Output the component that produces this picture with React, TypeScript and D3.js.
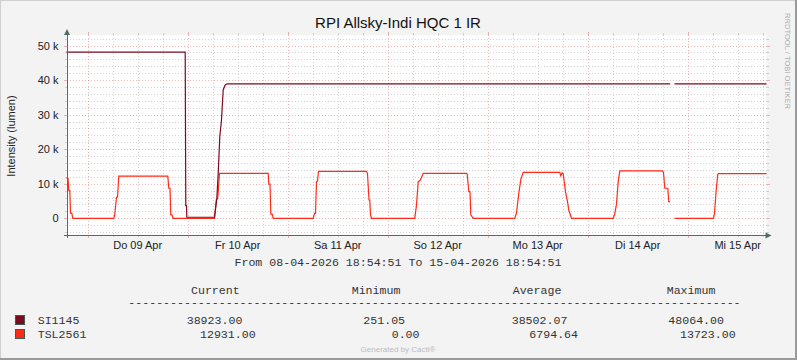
import React from "react";
import * as d3 from "d3";

const W = 797;
const H = 360;

// time range: 08-04-2026 18:54:51 .. 15-04-2026 18:54:51 (hours since start)
const startMs = Date.UTC(2026, 3, 8, 18, 54, 51);
const spanHours = 168;

const siHours = [0, 28.49, 28.63, 28.8, 28.87, 35.52, 35.69, 36.07, 36.41, 36.79, 37.2, 37.61, 38.09, 38.57, 144.89, 145.4, 145.92, 168];
const siValues = [48064, 48064, 3650, 3650, 300, 300, 1900, 5500, 13000, 23600, 28500, 37200, 38600, 38923, 38923, NaN, 38923, 38923];

const tslHours = [
  0, 0.36, 0.55, 0.79, 0.96, 1.27, 1.51,
  11.35, 11.57, 12.0, 12.24, 12.55,
  24.31, 24.55, 24.84, 25.03, 25.32, 25.56,
  35.52, 35.93, 36.31, 36.72,
  48.41, 48.55, 48.84, 49.03, 49.37, 49.61,
  59.21, 59.52, 59.76, 60.0, 60.24, 60.48,
  72.0, 72.24, 72.6, 72.79, 72.96, 73.2,
  83.59, 84.0, 84.41, 84.89, 85.61,
  96.0, 96.17, 96.55, 96.84, 97.03, 97.61,
  107.59, 108.0, 108.55, 109.03, 109.61,
  118.39, 118.63, 118.97, 119.21, 119.76, 120.24, 120.55, 121.2,
  131.21, 131.59, 132.0, 132.41, 132.79,
  142.97, 143.28, 143.59, 144.31, 144.55, 144.89,
  145.4,
  145.92, 155.28, 155.52, 155.93, 156.31, 156.55, 168,
];
const tslValues = [
  11600, 11600, 8000, 8000, 1500, 1500, 0,
  0, 1000, 6100, 6100, 12200,
  12200, 8700, 8700, 1000, 1000, 0,
  0, 5300, 5800, 13000,
  13000, 9900, 9900, 1200, 1200, 0,
  0, 1400, 1400, 10600, 10800, 13600,
  13600, 12900, 5300, 5300, 1000, 0,
  0, 3900, 10600, 11000, 13000,
  13000, 12800, 7700, 7700, 1000, 0,
  0, 1600, 7200, 11200, 13300,
  13300, 12300, 13200, 12900, 7700, 4800, 2400, 0,
  0, 1300, 4100, 10600, 13723,
  13723, 13300, 8700, 8700, 4800, 4800,
  NaN,
  0, 0, 1400, 8200, 12800, 12931, 12931,
];

const yTickValues = [0, 10000, 20000, 30000, 40000, 50000];
const yTickLabels = ["0", "10 k", "20 k", "30 k", "40 k", "50 k"];
const weekdayNames = ["So", "Mo", "Di", "Mi", "Do", "Fr", "Sa"];
const monthNames = ["Jan", "Feb", "Mär", "Apr", "Mai", "Jun", "Jul", "Aug", "Sep", "Okt", "Nov", "Dez"];

const legendHeaders = ["Current", "Minimum", "Average", "Maximum"];
const seriesNames = ["SI1145", "TSL2561"];
const siStats = ["38923.00", "251.05", "38502.07", "48064.00"];
const tslStats = ["12931.00", "0.00", "6794.64", "13723.00"];

const SI_COLOR = "#7E0A1E";
const TSL_COLOR = "#FF2A18";
const AXIS = "#4E6E64";
const MINOR = "rgba(170,170,170,0.5)";
const MAJOR = "rgba(225,110,110,0.5)";
const MONO = "'Liberation Mono', 'DejaVu Sans Mono', monospace";
const SANS = "'Liberation Sans', Arial, sans-serif";

const X0 = 66.5, X1 = 766.5, Y0 = 235, Y1 = 35;

export default function App() {
  const x = d3.scaleUtc()
    .domain([new Date(startMs), new Date(startMs + spanHours * 3600000)])
    .range([X0, X1]);
  const y = d3.scaleLinear().domain([-4830, 53040]).range([Y0, Y1]);

  const toPts = (hs: number[], vs: number[]) =>
    hs.map((h, i) => ({ t: new Date(startMs + h * 3600000), v: vs[i] }));

  const line = d3.line<{ t: Date; v: number }>()
    .defined((d) => !isNaN(d.v))
    .x((d) => x(d.t))
    .y((d) => y(d.v));

  const [d0, d1] = x.domain();
  const minorX = d3.utcHour.every(6)!.range(d0, d1).filter((d) => d.getUTCHours() % 24 !== 0);
  const majorX = d3.utcDay.range(d0, d1);
  const labelX = d3.utcHour.range(d0, d1).filter((d) => d.getUTCHours() === 12);

  const minorY = d3.range(-4000, 53001, 2000).filter((v) => v % 10000 !== 0);

  const fmtDay = (d: Date) =>
    `${weekdayNames[d.getUTCDay()]} ${String(d.getUTCDate()).padStart(2, "0")} ${monthNames[d.getUTCMonth()]}`;

  const statX = [
    [186.7, 363.3, 511.7, 668.3],
    [200, 391.7, 529.3, 680],
  ];
  const headerX = [191, 351.7, 512.7, 666.7];
  const rnd = (v: number) => Math.round(v) + 0.5;

  return (
    <svg width={W} height={H} style={{ display: "block", position: "absolute", left: 0, top: 0 }}>
      <rect x={0} y={0} width={W} height={H} fill="#F3F3F3" />
      {/* border */}
      <line x1={0} y1={0.5} x2={W} y2={0.5} stroke="#CFCFCF" strokeWidth={1} />
      <line x1={0.5} y1={0} x2={0.5} y2={H} stroke="#CFCFCF" strokeWidth={1} />
      <line x1={0} y1={H - 1} x2={W} y2={H - 1} stroke="#9A9A9A" strokeWidth={2} />
      <line x1={W - 1} y1={0} x2={W - 1} y2={H} stroke="#9A9A9A" strokeWidth={2} />

      <rect x={X0} y={Y1} width={X1 - X0} height={Y0 - Y1} fill="#FFFFFF" />

      {/* grid */}
      <g strokeWidth={1} shapeRendering="crispEdges">
        {minorY.map((v) => (
          <g key={"my" + v}>
            <line x1={X0} x2={X1} y1={rnd(y(v))} y2={rnd(y(v))} stroke={MINOR} strokeDasharray="1,2" />
            <line x1={X0 - 2} x2={X0} y1={rnd(y(v))} y2={rnd(y(v))} stroke={MINOR} />
            <line x1={X1} x2={X1 + 2} y1={rnd(y(v))} y2={rnd(y(v))} stroke={MINOR} />
          </g>
        ))}
        {minorX.map((d) => (
          <g key={"mx" + d.getTime()}>
            <line x1={rnd(x(d))} x2={rnd(x(d))} y1={Y1} y2={Y0} stroke={MINOR} strokeDasharray="1,2" />
            <line x1={rnd(x(d))} x2={rnd(x(d))} y1={Y0} y2={Y0 + 2} stroke={MINOR} />
            <line x1={rnd(x(d))} x2={rnd(x(d))} y1={Y1 - 2} y2={Y1} stroke={MINOR} />
          </g>
        ))}
        {yTickValues.map((v) => (
          <g key={"My" + v}>
            <line x1={X0} x2={X1} y1={rnd(y(v))} y2={rnd(y(v))} stroke={MAJOR} strokeDasharray="1,2" />
            <line x1={X0 - 3} x2={X0} y1={rnd(y(v))} y2={rnd(y(v))} stroke={MAJOR} />
            <line x1={X1} x2={X1 + 3} y1={rnd(y(v))} y2={rnd(y(v))} stroke={MAJOR} />
          </g>
        ))}
        {majorX.map((d) => (
          <g key={"Mx" + d.getTime()}>
            <line x1={rnd(x(d))} x2={rnd(x(d))} y1={Y1} y2={Y0} stroke={MAJOR} strokeDasharray="1,2" />
            <line x1={rnd(x(d))} x2={rnd(x(d))} y1={Y0} y2={Y0 + 3} stroke={MAJOR} />
            <line x1={rnd(x(d))} x2={rnd(x(d))} y1={Y1 - 3} y2={Y1} stroke={MAJOR} />
          </g>
        ))}
      </g>

      {/* series */}
      <path d={line(toPts(tslHours, tslValues)) || ""} fill="none" stroke={TSL_COLOR} strokeWidth={1.2} />
      <path d={line(toPts(siHours, siValues)) || ""} fill="none" stroke={SI_COLOR} strokeWidth={1.2} />

      {/* axes */}
      <g shapeRendering="crispEdges">
        <line x1={X0 - 3} x2={X1 + 2} y1={Y0 + 0.5} y2={Y0 + 0.5} stroke={AXIS} strokeWidth={1} />
        <line x1={X0 + 0.5} x2={X0 + 0.5} y1={Y0 + 3} y2={Y1 - 3} stroke={AXIS} strokeWidth={1} />
      </g>
      <path d={`M${X1 + 5},${Y0 + 0.5} L${X1 - 1},${Y0 - 2.5} L${X1 - 1},${Y0 + 3.5} Z`} fill={AXIS} />
      <path d={`M${X0 + 0.5},${Y1 - 6} L${X0 - 2.5},${Y1} L${X0 + 3.5},${Y1} Z`} fill={AXIS} />

      {/* y tick labels */}
      <g fontFamily={SANS} fontSize={11} fill="#222" textAnchor="end">
        {yTickValues.map((v, i) => (
          <text key={"yl" + v} x={58.5} y={y(v) + 4}>{yTickLabels[i]}</text>
        ))}
      </g>
      {/* x tick labels */}
      <g fontFamily={SANS} fontSize={11} fill="#222" textAnchor="middle">
        {labelX.map((d) => (
          <text key={"xl" + d.getTime()} x={x(d)} y={249}>{fmtDay(d)}</text>
        ))}
      </g>

      {/* title */}
      <text x={398} y={28} fontFamily={SANS} fontSize={15} fill="#111" textAnchor="middle">RPI Allsky-Indi HQC 1 IR</text>
      {/* y label */}
      <text transform="translate(15,136) rotate(-90)" fontFamily={SANS} fontSize={11} fill="#222" textAnchor="middle">Intensity (lumen)</text>
      {/* watermark */}
      <text transform="translate(784.5,13) rotate(90)" fontFamily={SANS} fontSize={7.6} fill="#ABABAB">RRDTOOL / TOBI OETIKER</text>

      {/* legend */}
      <g fontFamily={MONO} fontSize={11.6} fill="#333" style={{ whiteSpace: "pre" }}>
        <text x={398} y={266} textAnchor="middle">From 08-04-2026 18:54:51 To 15-04-2026 18:54:51</text>
        {legendHeaders.map((h, i) => (
          <text key={h} x={headerX[i]} y={294}>{h}</text>
        ))}
        <text x={128.3} y={306}>{"-".repeat(88)}</text>
        {[siStats, tslStats].map((row, r) => (
          <g key={"row" + r}>
            <rect x={15.5} y={315.5 + r * 14} width={9} height={9} fill={r === 0 ? SI_COLOR : TSL_COLOR} stroke="#3E5A52" strokeWidth={1} />
            <text x={37.7} y={323.5 + r * 14}>{seriesNames[r]}</text>
            {row.map((s, i) => (
              <text key={i} x={statX[r][i]} y={323.5 + r * 14}>{s}</text>
            ))}
          </g>
        ))}
      </g>
      <text x={398} y={351.5} fontFamily={SANS} fontSize={8} fill="#BDBDBD" textAnchor="middle">Generated by Cacti®</text>
    </svg>
  );
}
